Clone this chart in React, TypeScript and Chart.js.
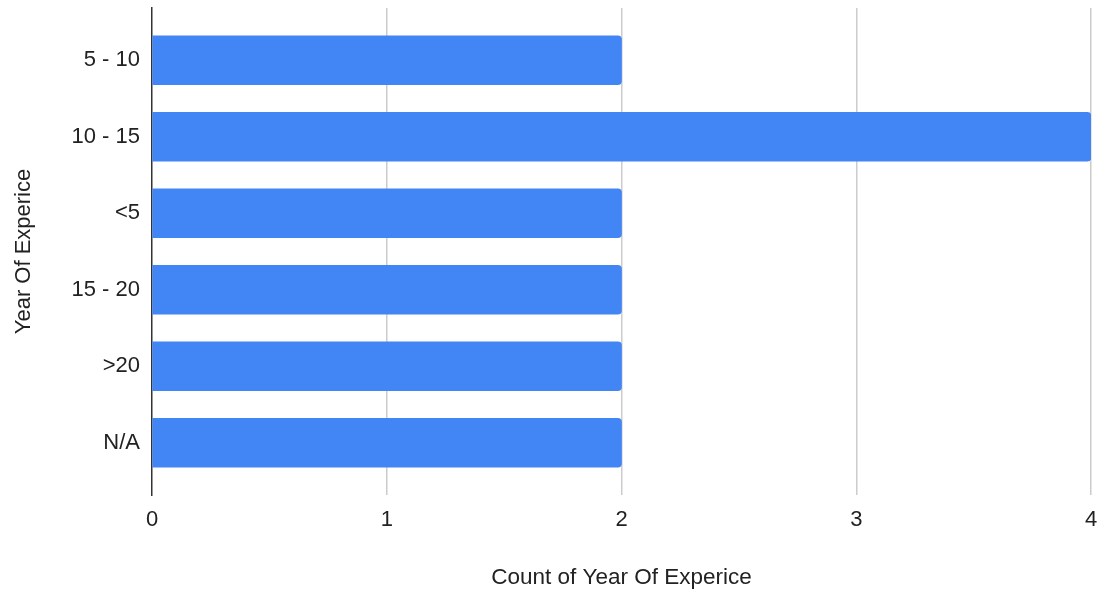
import React, { useEffect, useRef } from "react";
import { Chart, registerables } from "chart.js";

Chart.register(...registerables);

const categories: string[] = ["5 - 10", "10 - 15", "<5", "15 - 20", ">20", "N/A"];
const counts: number[] = [2, 4, 2, 2, 2, 2];
const xTicks: number[] = [0, 1, 2, 3, 4];
const xTitle = "Count of Year Of Experice";
const yTitle = "Year Of Experice";

const FONT = "'Liberation Sans', Arial, Helvetica, sans-serif";

export default function App() {
  const ref = useRef<HTMLCanvasElement | null>(null);

  useEffect(() => {
    if (!ref.current) return;
    const chart = new Chart(ref.current, {
      type: "bar",
      data: {
        datasets: [
          {
            label: xTitle,
            data: counts.map((c, i) => ({ x: c, y: i })),
            backgroundColor: "#4285F4",
            borderWidth: 0,
            borderRadius: 4,
            borderSkipped: "start",
            barThickness: 49,
          },
        ],
      },
      options: {
        indexAxis: "y",
        animation: false,
        responsive: true,
        maintainAspectRatio: false,
        layout: { padding: { top: 8, right: 16, left: 0, bottom: 0 } },
        plugins: { legend: { display: false }, tooltip: { enabled: false } },
        scales: {
          x: {
            type: "linear",
            min: xTicks[0],
            max: xTicks[xTicks.length - 1],
            afterBuildTicks: (s: any) => {
              s.ticks = xTicks.map((v) => ({ value: v }));
            },
            ticks: {
              font: { family: FONT, size: 22 },
              color: "#222",
              padding: 12,
              maxRotation: 0,
            },
            grid: {
              drawTicks: false,
              color: (ctx: any) => (ctx.tick && ctx.tick.value === 0 ? "rgba(0,0,0,0)" : "#cccccc"),
              lineWidth: 1.5,
            },
            border: { display: false },
            title: {
              display: true,
              text: xTitle,
              font: { family: FONT, size: 22.5 },
              color: "#222",
              padding: { top: 0, bottom: 3 },
            },
            afterFit: (s: any) => {
              s.height = 99;
              s.paddingLeft = 0;
              s.paddingRight = 0;
            },
          },
          y: {
            type: "linear",
            offset: false,
            min: -0.683,
            max: 5.683,
            reverse: true,
            afterBuildTicks: (s: any) => {
              s.ticks = categories.map((_, i) => ({ value: i }));
            },
            ticks: {
              font: { family: FONT, size: 22 },
              color: "#222",
              padding: 12,
              autoSkip: false,
              callback: (v: any) => categories[v as number] ?? "",
            },
            grid: { display: false, drawTicks: false, offset: false },
            border: { display: true, color: "#333333", width: 1.5 },
            title: {
              display: true,
              text: yTitle,
              font: { family: FONT, size: 22 },
              color: "#222",
              padding: { top: 11, bottom: 0 },
            },
            afterFit: (s: any) => {
              s.width = 152;
              s.paddingTop = 0;
              s.paddingBottom = 0;
            },
          },
        },
      },
    });
    return () => chart.destroy();
  }, []);

  return (
    <div style={{ position: "fixed", left: 0, top: 0, width: 1107, height: 594, background: "#fff" }}>
      <canvas ref={ref} />
    </div>
  );
}
